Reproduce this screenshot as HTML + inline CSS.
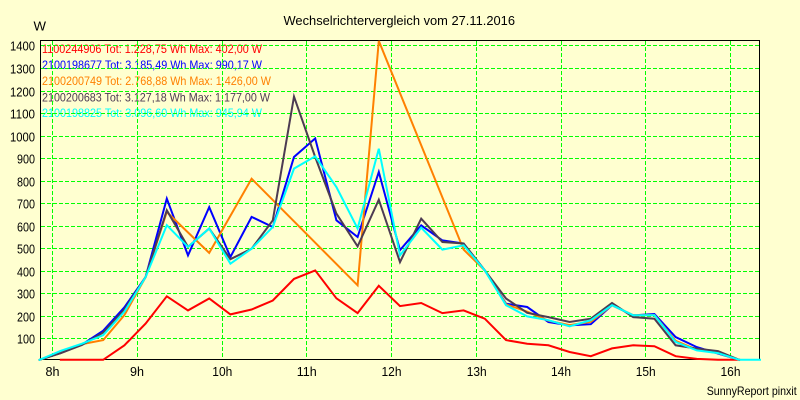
<!DOCTYPE html>
<html>
<head>
<meta charset="utf-8">
<style>
html,body{margin:0;padding:0;background:#FFFFD0;}
svg{display:block;}
text{font-family:"Liberation Sans",Arial,sans-serif;}
</style>
</head>
<body>
<svg width="800" height="400" viewBox="0 0 800 400" xmlns="http://www.w3.org/2000/svg">
<rect x="0" y="0" width="800" height="400" fill="#FFFFD0"/>

<!-- title & unit -->
<text x="283.5" y="25" font-size="12.5" fill="#000" textLength="231.5" lengthAdjust="spacingAndGlyphs">Wechselrichtervergleich vom 27.11.2016</text>
<text x="33.5" y="30.5" font-size="13" fill="#000" textLength="12.5" lengthAdjust="spacingAndGlyphs">W</text>

<!-- legend -->
<g font-size="12">
<text x="42" y="53" fill="#FF0000" textLength="220" lengthAdjust="spacingAndGlyphs">1100244906 Tot: 1.228,75 Wh Max: 402,00 W</text>
<text x="42" y="69" fill="#0000FF" textLength="220" lengthAdjust="spacingAndGlyphs">2100198677 Tot: 3.185,49 Wh Max: 990,17 W</text>
<text x="42" y="85" fill="#FF8000" textLength="229" lengthAdjust="spacingAndGlyphs">2100200749 Tot: 2.768,88 Wh Max: 1.426,00 W</text>
<text x="42" y="101.5" fill="#4D3B52" textLength="228" lengthAdjust="spacingAndGlyphs">2100200683 Tot: 3.127,18 Wh Max: 1.177,00 W</text>
<text x="42" y="117" fill="#00FFFF" textLength="220" lengthAdjust="spacingAndGlyphs">2100198825 Tot: 3.096,60 Wh Max: 945,94 W</text>
</g>

<!-- grid -->
<g stroke="#00FF00" stroke-width="1" stroke-dasharray="4,2" shape-rendering="crispEdges" fill="none">
<line x1="41" y1="338.5" x2="759" y2="338.5"/>
<line x1="41" y1="316.5" x2="759" y2="316.5"/>
<line x1="41" y1="293.5" x2="759" y2="293.5"/>
<line x1="41" y1="271.5" x2="759" y2="271.5"/>
<line x1="41" y1="248.5" x2="759" y2="248.5"/>
<line x1="41" y1="226.5" x2="759" y2="226.5"/>
<line x1="41" y1="203.5" x2="759" y2="203.5"/>
<line x1="41" y1="181.5" x2="759" y2="181.5"/>
<line x1="41" y1="158.5" x2="759" y2="158.5"/>
<line x1="41" y1="136.5" x2="759" y2="136.5"/>
<line x1="41" y1="113.5" x2="759" y2="113.5"/>
<line x1="41" y1="91.5" x2="759" y2="91.5"/>
<line x1="41" y1="68.5" x2="759" y2="68.5"/>
<line x1="41" y1="45.5" x2="759" y2="45.5"/>
<line x1="52.5" y1="41" x2="52.5" y2="359"/>
<line x1="137.5" y1="41" x2="137.5" y2="359"/>
<line x1="222.5" y1="41" x2="222.5" y2="359"/>
<line x1="306.5" y1="41" x2="306.5" y2="359"/>
<line x1="391.5" y1="41" x2="391.5" y2="359"/>
<line x1="476.5" y1="41" x2="476.5" y2="359"/>
<line x1="561.5" y1="41" x2="561.5" y2="359"/>
<line x1="645.5" y1="41" x2="645.5" y2="359"/>
<line x1="730.5" y1="41" x2="730.5" y2="359"/>
</g>

<!-- plot box -->
<rect x="40.5" y="40.5" width="719" height="319" fill="none" stroke="#000" stroke-width="1" shape-rendering="crispEdges"/>

<!-- y labels -->
<g font-size="13" fill="#000" text-anchor="end">
<text x="35" y="343.5" textLength="18" lengthAdjust="spacingAndGlyphs">100</text>
<text x="35" y="321.5" textLength="18" lengthAdjust="spacingAndGlyphs">200</text>
<text x="35" y="298.5" textLength="18" lengthAdjust="spacingAndGlyphs">300</text>
<text x="35" y="276.5" textLength="18" lengthAdjust="spacingAndGlyphs">400</text>
<text x="35" y="253.5" textLength="18" lengthAdjust="spacingAndGlyphs">500</text>
<text x="35" y="231.5" textLength="18" lengthAdjust="spacingAndGlyphs">600</text>
<text x="35" y="208.5" textLength="18" lengthAdjust="spacingAndGlyphs">700</text>
<text x="35" y="186.5" textLength="18" lengthAdjust="spacingAndGlyphs">800</text>
<text x="35" y="163.5" textLength="18" lengthAdjust="spacingAndGlyphs">900</text>
<text x="35" y="141.5" textLength="25" lengthAdjust="spacingAndGlyphs">1000</text>
<text x="35" y="118.5" textLength="25" lengthAdjust="spacingAndGlyphs">1100</text>
<text x="35" y="96.5" textLength="25" lengthAdjust="spacingAndGlyphs">1200</text>
<text x="35" y="73.5" textLength="25" lengthAdjust="spacingAndGlyphs">1300</text>
<text x="35" y="50.5" textLength="25" lengthAdjust="spacingAndGlyphs">1400</text>
</g>

<!-- x labels -->
<g font-size="13" fill="#000" text-anchor="middle">
<text x="52.5" y="376" textLength="14" lengthAdjust="spacingAndGlyphs">8h</text>
<text x="137" y="376" textLength="14" lengthAdjust="spacingAndGlyphs">9h</text>
<text x="222.3" y="376" textLength="20" lengthAdjust="spacingAndGlyphs">10h</text>
<text x="306.7" y="376" textLength="20" lengthAdjust="spacingAndGlyphs">11h</text>
<text x="391.5" y="376" textLength="20" lengthAdjust="spacingAndGlyphs">12h</text>
<text x="476.7" y="376" textLength="20" lengthAdjust="spacingAndGlyphs">13h</text>
<text x="561" y="376" textLength="20" lengthAdjust="spacingAndGlyphs">14h</text>
<text x="645.7" y="376" textLength="20" lengthAdjust="spacingAndGlyphs">15h</text>
<text x="730.5" y="376" textLength="20" lengthAdjust="spacingAndGlyphs">16h</text>
</g>

<text x="706.7" y="395" font-size="12" fill="#000" textLength="90" lengthAdjust="spacingAndGlyphs">SunnyReport pinxit</text>

<!-- series -->
<g fill="none" stroke-width="2" stroke-linejoin="miter" stroke-linecap="square">
<!-- red -->
<polyline stroke="#FF0000" points="60.8,359.8 82,359.8 103.2,359.8 124.4,345.3 145.6,323.6 166.8,296.3 188,310.4 209.2,298.5 230.4,314.4 251.6,309.5 272.8,300.5 294,278.9 315.2,270.4 336.4,298.3 357.6,313.1 378.8,285.8 400,306.1 421.2,303 442.4,313.1 463.6,310.4 484.8,318.7 506,340.1 527.2,343.7 548.4,345.3 569.6,352 590.8,356.2 612,348.4 633.2,345.3 654.4,346.2 675.6,356.2 696.8,358.9 718,359.8 739.2,359.8"/>
<!-- blue -->
<polyline stroke="#0000FF" points="39.6,359.8 60.8,353.1 82,344.6 103.2,330.7 124.4,307.3 145.6,277.1 166.8,198.6 188,255.4 209.2,207.1 230.4,257 251.6,216.9 272.8,227 294,157 315.2,138.4 336.4,220.3 357.6,237 378.8,172 400,250.2 421.2,225.4 442.4,240.4 463.6,243.5 484.8,270.4 506,303.7 527.2,307 548.4,322 569.6,325.4 590.8,324.2 612,305.2 633.2,315.3 654.4,314 675.6,337 696.8,347.1 718,353.5 739.2,359.8"/>
<!-- orange -->
<polyline stroke="#FF8000" points="39.6,359.8 60.8,353.1 82,344.1 103.2,340.1 124.4,315.1 145.6,277.1 166.8,212 209.2,252.9 251.6,178.7 357.6,285.3 378.8,40.9 463.6,249.6 484.8,270.4 506,304.3 527.2,311.7 548.4,320.7 569.6,325.1 590.8,321.8 612,305.2 633.2,315.3 654.4,315.1 675.6,340.8 696.8,349.7 718,353.1 739.2,359.8"/>
<!-- dark -->
<polyline stroke="#4D3B52" points="39.6,359.8 60.8,353.1 82,345 103.2,332.5 124.4,309.5 145.6,277.1 166.8,210.2 188,246.9 209.2,228.5 230.4,259.2 251.6,248.7 272.8,220.3 294,96.6 315.2,157 336.4,213.6 357.6,246.4 378.8,199.7 400,262.1 421.2,218.7 442.4,242 463.6,243.5 484.8,270.4 506,298.5 527.2,312.8 548.4,317.1 569.6,322 590.8,318.7 612,303 633.2,317.1 654.4,318.7 675.6,345.3 696.8,348.6 718,351.1 739.2,359.8"/>
<!-- cyan -->
<polyline stroke="#00FFFF" points="39.6,359.8 60.8,350.8 82,343.7 103.2,335.2 124.4,311.7 145.6,277.1 166.8,225.2 188,246.9 209.2,228.5 230.4,263.7 251.6,248.7 272.8,227 294,168.6 315.2,156.3 336.4,187 357.6,228.5 378.8,148.7 400,255.4 421.2,227.7 442.4,249.6 463.6,245.3 484.8,270.4 506,305.2 527.2,316.4 548.4,320.2 569.6,326.3 590.8,320.2 612,305.2 633.2,315.3 654.4,315.3 675.6,341.9 696.8,350.4 718,353.1 739.2,359.8 760,359.8"/>
</g>
</svg>
</body>
</html>
